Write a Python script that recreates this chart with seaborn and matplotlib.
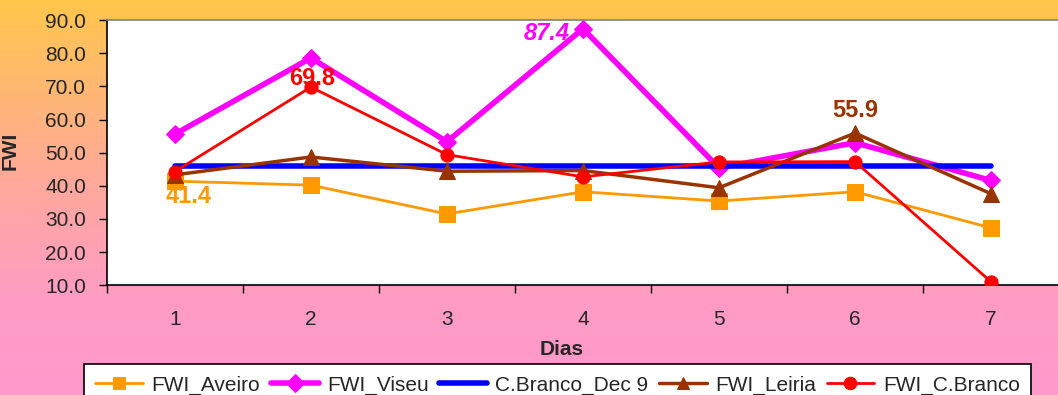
import numpy as np
import pandas as pd
import matplotlib
matplotlib.use('Agg')
import matplotlib.pyplot as plt
import seaborn as sns
from matplotlib.colors import LinearSegmentedColormap

dias = [1, 2, 3, 4, 5, 6, 7]
fwi_aveiro = [41.4, 40.2, 31.5, 38.2, 35.4, 38.2, 27.3]
fwi_viseu = [55.6, 78.6, 53.3, 87.4, 45.4, 53.0, 41.6]
cbranco_dec9 = [46.0, 46.0, 46.0, 46.0, 46.0, 46.0, 46.0]
fwi_leiria = [43.3, 48.7, 44.4, 44.6, 39.4, 55.9, 37.6]
fwi_cbranco = [44.3, 69.8, 49.4, 42.7, 47.2, 47.3, 11.0]

series = ['FWI_Aveiro', 'FWI_Viseu', 'C.Branco_Dec 9', 'FWI_Leiria', 'FWI_C.Branco']
values = [fwi_aveiro, fwi_viseu, cbranco_dec9, fwi_leiria, fwi_cbranco]

df = pd.DataFrame({'Dias': dias * len(series),
                   'FWI': np.concatenate(values),
                   'serie': np.repeat(series, len(dias))})

sns.set_theme(style='white')
plt.rcParams['font.family'] = ['Liberation Sans', 'DejaVu Sans']

fig = plt.figure(figsize=(10.58, 3.95), dpi=100)

# gradient background (orange -> pink)
bg = fig.add_axes([0, 0, 1, 1], zorder=-10)
grad = np.linspace(0, 1, 256).reshape(-1, 1)
cmap = LinearSegmentedColormap.from_list('sunset', [(0, '#FFC64C'), (0.45, '#FFA99A'), (0.75, '#FF9CC4'), (1, '#FF99CC')])
bg.imshow(grad, aspect='auto', cmap=cmap, extent=[0, 1, 0, 1])
bg.axis('off')

ax = fig.add_axes([0.101, 0.278, 0.9, 0.671])
ax.set_facecolor('white')

styles = {
    'FWI_Aveiro': dict(color='#FF9900', marker='s', lw=2, ms=12),
    'FWI_Viseu': dict(color='#FF00FF', marker='D', lw=4, ms=9),
    'C.Branco_Dec 9': dict(color='#0000FF', marker=None, lw=4, ms=0),
    'FWI_Leiria': dict(color='#993300', marker='^', lw=2.5, ms=11),
    'FWI_C.Branco': dict(color='#FF0000', marker='o', lw=2, ms=9.5),
}
zorders = {'FWI_Aveiro': 3, 'FWI_Viseu': 4, 'C.Branco_Dec 9': 5, 'FWI_Leiria': 6, 'FWI_C.Branco': 7}

for s in series:
    st = styles[s]
    sns.lineplot(data=df[df['serie'] == s], x='Dias', y='FWI', ax=ax,
                 color=st['color'], marker=st['marker'], lw=st['lw'],
                 markersize=st['ms'], markeredgecolor=st['color'],
                 label=s, zorder=zorders[s])

# data labels
lab = dict(fontsize=17, fontweight='bold', ha='center', va='center', zorder=10)
ax.text(1.1, 36.9, '41.4', color='#FF9900', **lab)
ax.text(2.01, 72.5, '69.8', color='#FF0000', **lab)
ax.text(3.735, 86.1, '87.4', color='#FF00FF', fontstyle='italic', **lab)
ax.text(6, 62.8, '55.9', color='#993300', **lab)

ax.set_xlim(0.5, 7.5)
ax.set_ylim(10, 90)
ax.set_yticks(np.arange(10, 91, 10))
ax.set_yticklabels([f'{v:.1f}' for v in np.arange(10, 91, 10)], fontsize=15)
ax.set_xticks(dias)
ax.set_xticklabels([str(d) for d in dias], fontsize=15)
ax.set_xticks(np.arange(0.5, 8, 1), minor=True)
ax.tick_params(axis='x', which='major', length=0, pad=18)
ax.tick_params(axis='x', which='minor', length=6, width=1, direction='out', color='black', bottom=True)
ax.tick_params(axis='y', which='major', length=6, width=1, direction='out', color='black', left=True, pad=9)
ax.set_xlabel('Dias', fontsize=15, fontweight='bold')
ax.set_ylabel('FWI', fontsize=15, fontweight='bold')
ax.yaxis.set_label_coords(-0.092, 0.506)
ax.xaxis.set_label_coords(0.478, -0.205)

for sp in ['left', 'bottom']:
    ax.spines[sp].set_color('black')
    ax.spines[sp].set_linewidth(1.2)
ax.spines['top'].set_color('#808080')
ax.spines['top'].set_linewidth(1.2)
ax.spines['right'].set_visible(False)

ax.get_legend().remove()
handles, labels = ax.get_legend_handles_labels()
leg = fig.legend(handles, labels, loc='upper center', bbox_to_anchor=(0.527, 1 - 364 / 395), ncol=5,
                 fontsize=15, frameon=True, fancybox=False, edgecolor='black', borderaxespad=0,
                 handlelength=2.3, columnspacing=0.5, handletextpad=0.4, borderpad=0.55)
leg.get_frame().set_linewidth(1.2)
leg.get_frame().set_facecolor('white')
leg.get_frame().set_alpha(1)
for h in leg.legend_handles:
    h.set_markersize(9)

fig.savefig('out.png', dpi=100)
